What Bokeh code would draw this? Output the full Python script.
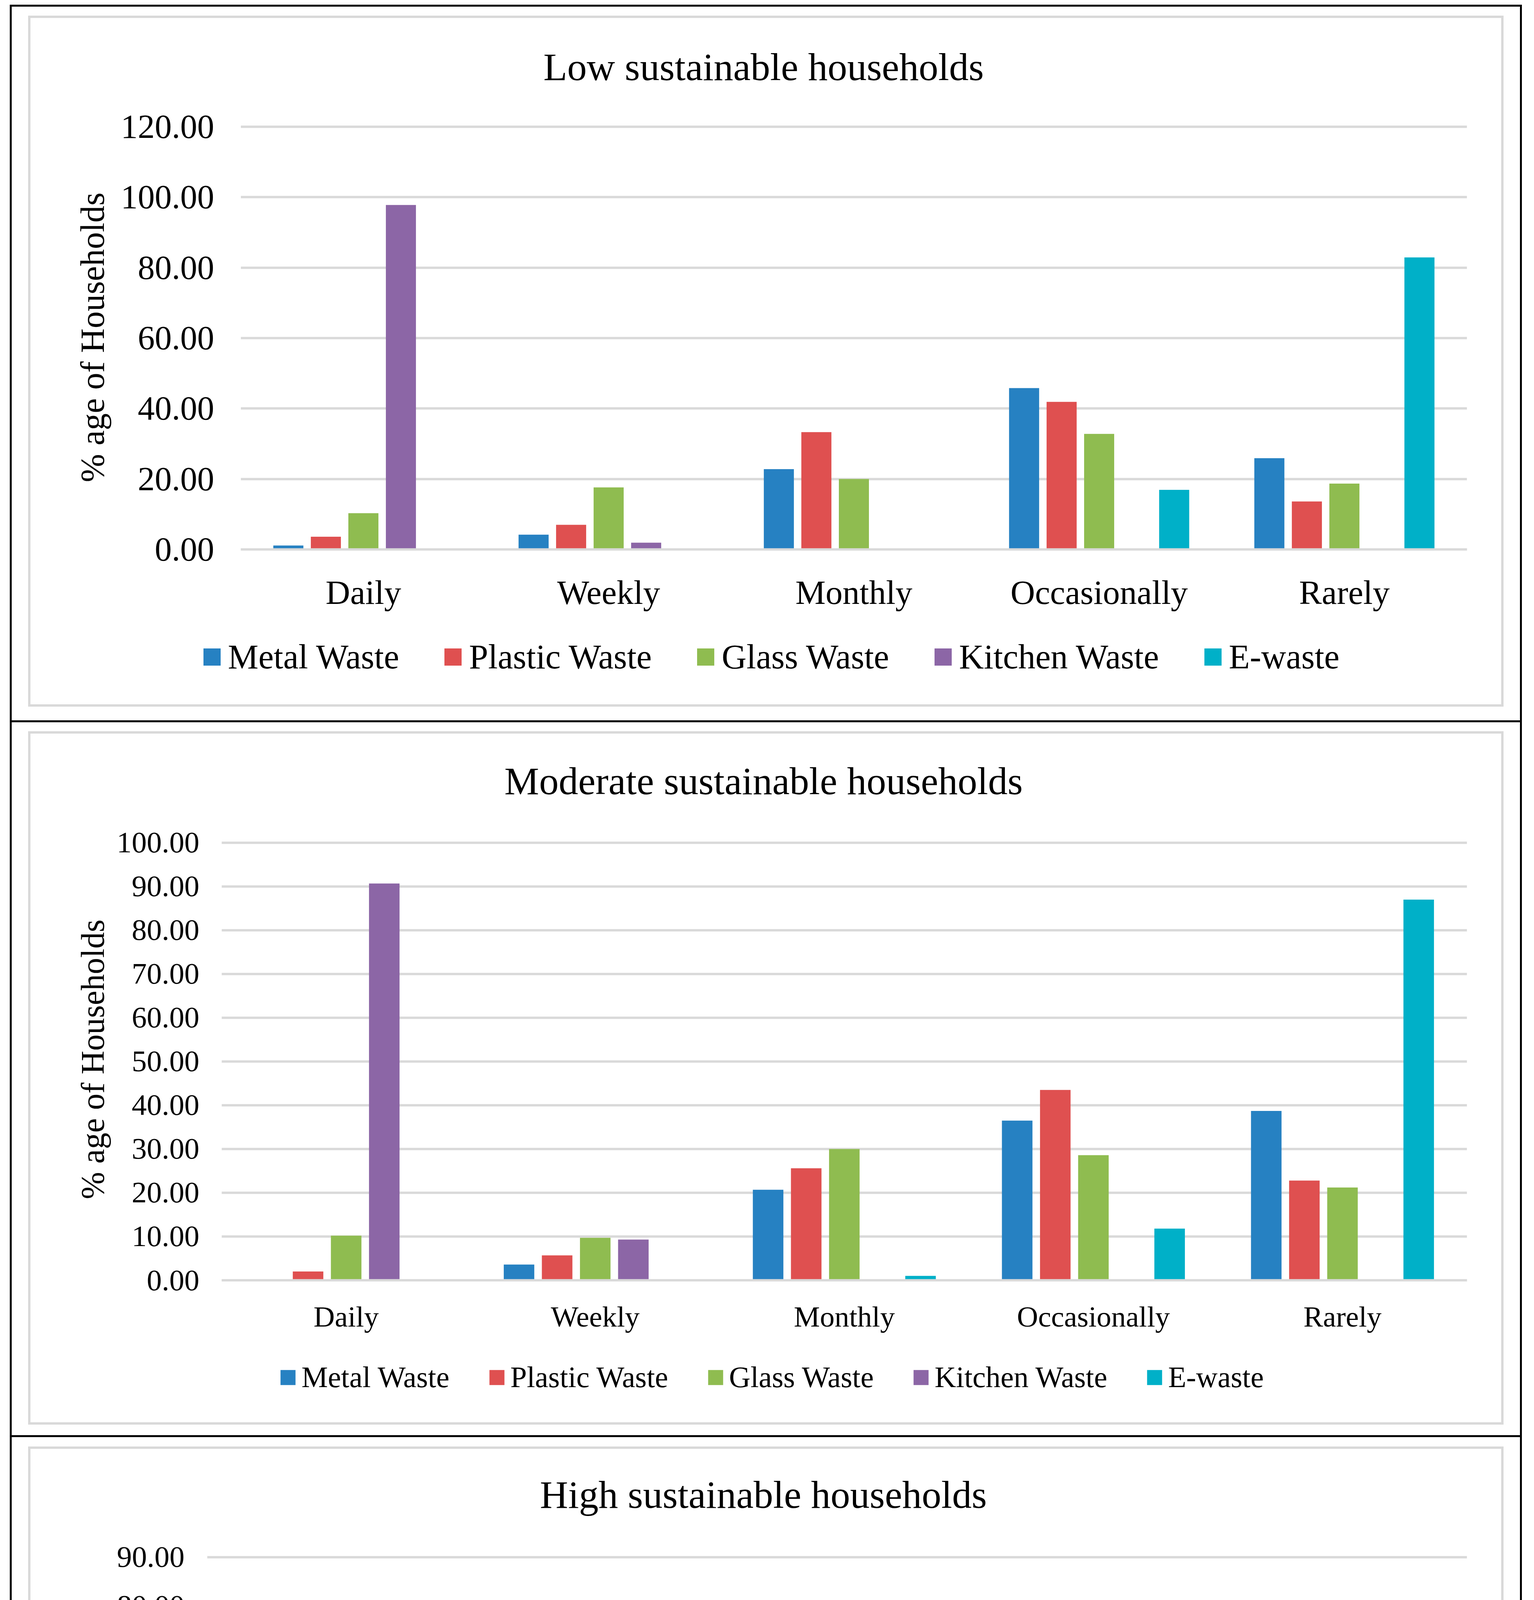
from bokeh.plotting import figure
from bokeh.models import (FactorRange, Range1d, FixedTicker, NumeralTickFormatter,
                          Legend, LegendItem, ColumnDataSource)
from bokeh.transform import dodge
from bokeh.embed import file_html
from bokeh.resources import INLINE

# ---------------- data ----------------
categories = ["Daily", "Weekly", "Monthly", "Occasionally", "Rarely"]
series_names = ["Metal Waste", "Plastic Waste", "Glass Waste", "Kitchen Waste", "E-waste"]
y_label = "% age of Households"

titles = ["Low sustainable households", "Moderate sustainable households", "High sustainable households"]

low_metal = [1.1, 4.2, 22.8, 45.8, 25.9]
low_plastic = [3.6, 7.0, 33.3, 41.9, 13.6]
low_glass = [10.3, 17.6, 20.0, 32.8, 18.7]
low_kitchen = [97.8, 1.9, 0.0, 0.0, 0.0]
low_ewaste = [0.0, 0.0, 0.0, 16.9, 82.9]

mod_metal = [0.1, 3.6, 20.7, 36.5, 38.7]
mod_plastic = [2.0, 5.7, 25.6, 43.5, 22.8]
mod_glass = [10.2, 9.7, 30.0, 28.6, 21.2]
mod_kitchen = [90.7, 9.3, 0.0, 0.0, 0.0]
mod_ewaste = [0.0, 0.0, 1.0, 11.8, 87.0]

high_metal = [0.0, 2.0, 10.7, 36.5, 50.5]
high_plastic = [1.9, 3.9, 15.8, 40.5, 37.7]
high_glass = [7.5, 9.2, 20.9, 36.0, 26.0]
high_kitchen = [74.6, 17.7, 5.8, 0.7, 1.1]
high_ewaste = [0.0, 0.0, 0.3, 23.2, 76.4]

low_ticks = [0, 20, 40, 60, 80, 100, 120]
mod_ticks = [0, 10, 20, 30, 40, 50, 60, 70, 80, 90, 100]
high_ticks = [0, 10, 20, 30, 40, 50, 60, 70, 80, 90]

# ---------------- style ----------------
colors = ["#2681C2", "#DF5050", "#8FBC50", "#8C66A6", "#00B0C8"]
FONT = "Liberation Serif"
GRID = "#D9D9D9"
W = 3912
FRAME_RIGHT = 3756
SPLIT = 1600  # chart part / legend part of every panel
keys = ["metal", "plastic", "glass", "kitchen", "ewaste"]
offsets = [-0.306, -0.153, 0.0, 0.153, 0.306]
BAR_W = 0.1226

panels = [
    dict(title=titles[0], vals=[low_metal, low_plastic, low_glass, low_kitchen, low_ewaste],
         ticks=low_ticks, height=1849, fl=616, ftop=320, gtop=324, fb=1406,
         title_off=775, title_standoff=188, fs=87, leg_fs=88, tick_fs=87, ylab_fs=87,
         tick_standoff=62, ylab_standoff=21, x_standoff=55,
         leg_x=514.5, leg_center=83, leg_h=97, leg_glyph=55, leg_standoff=14, leg_spacing=110,
         gray=(72, 40, 1809), black_top=12, black_bottom=1849),
    dict(title=titles[1], vals=[mod_metal, mod_plastic, mod_glass, mod_kitchen, mod_ewaste],
         ticks=mod_ticks, height=1830, fl=567, ftop=296, gtop=307, fb=1428,
         title_off=724, title_standoff=184, fs=75, leg_fs=76, tick_fs=77, ylab_fs=84,
         tick_standoff=51, ylab_standoff=12, x_standoff=45,
         leg_x=713, leg_center=78, leg_h=84, leg_glyph=48, leg_standoff=11, leg_spacing=97,
         gray=(72, 23, 1798), black_top=None, black_bottom=1830),
    dict(title=titles[2], vals=[high_metal, high_plastic, high_glass, high_kitchen, high_ewaste],
         ticks=high_ticks, height=1835, fl=530, ftop=290, gtop=306, fb=1429,
         title_off=852, title_standoff=178, fs=75, leg_fs=76, tick_fs=77, ylab_fs=84,
         tick_standoff=52, ylab_standoff=13, x_standoff=44,
         leg_x=713, leg_center=79, leg_h=84, leg_glyph=48, leg_standoff=11, leg_spacing=97,
         gray=(72, 24, 1795), black_top=None, black_bottom=1831),
]


def panel_rects(cfg):
    """Black outer rule and grey chart-area box of one panel, in panel pixels."""
    r = []
    top = cfg["black_top"] if cfg["black_top"] is not None else 0
    bot = cfg["black_bottom"]
    r.append((25, top, 5, bot - top, "#000000"))
    r.append((3892, top, 5, bot - top, "#000000"))
    if cfg["black_top"] is not None:
        r.append((25, top, 3872, 5, "#000000"))
    r.append((25, bot - 5, 3872, 5, "#000000"))
    gl, gt, gb = cfg["gray"]
    gr = 3850
    r.append((gl, gt, 6, gb - gt, GRID))
    r.append((gr - 6, gt, 6, gb - gt, GRID))
    r.append((gl, gt, gr - gl, 6, GRID))
    r.append((gl, gb - 6, gr - gl, 6, GRID))
    return r


def slice_css(cfg, y0, h):
    layers = []
    for (x, y, w, hh, c) in panel_rects(cfg):
        a, b = max(y, y0), min(y + hh, y0 + h)
        if b <= a:
            continue
        layers.append((f"linear-gradient({c},{c})", f"{x}px {a - y0}px", f"{w}px {b - a}px"))
    return {
        "background-color": "#ffffff",
        "background-image": ", ".join(l[0] for l in layers),
        "background-position": ", ".join(l[1] for l in layers),
        "background-size": ", ".join(l[2] for l in layers),
        "background-repeat": "no-repeat",
    }


def make_chart(cfg):
    data = {"cat": categories}
    for k, v in zip(keys, cfg["vals"]):
        data[k] = v
    src = ColumnDataSource(data)

    ymax = cfg["ticks"][-1]
    y_end = ymax * (cfg["fb"] - cfg["ftop"]) / (cfg["fb"] - cfg["gtop"])

    p = figure(width=W, height=SPLIT, x_range=FactorRange(*categories, range_padding=0),
               y_range=Range1d(0, y_end), title=cfg["title"],
               output_backend="svg", toolbar_location=None,
               min_border_left=cfg["fl"], min_border_right=W - FRAME_RIGHT,
               min_border_top=cfg["ftop"], min_border_bottom=SPLIT - cfg["fb"],
               styles=slice_css(cfg, 0, SPLIT))
    p.outline_line_color = None
    p.background_fill_color = None
    p.border_fill_color = None

    p.title.text_font = FONT
    p.title.text_font_size = "100px"
    p.title.text_font_style = "normal"
    p.title.text_color = "black"
    p.title.align = "left"
    p.title.offset = cfg["title_off"]
    p.title.standoff = cfg["title_standoff"]

    for k, c, off in zip(keys, colors, offsets):
        p.vbar(x=dodge("cat", off, range=p.x_range), top=k, width=BAR_W, bottom=0,
               source=src, fill_color=c, line_color=None)

    xa = p.xaxis[0]
    xa.axis_line_color = GRID
    xa.axis_line_width = 6
    xa.major_tick_line_color = None
    xa.minor_tick_line_color = None
    xa.major_label_text_font = FONT
    xa.major_label_text_font_size = f"{cfg['fs']}px"
    xa.major_label_text_color = "black"
    xa.major_label_standoff = cfg["x_standoff"]

    ya = p.yaxis[0]
    ya.ticker = FixedTicker(ticks=cfg["ticks"])
    ya.formatter = NumeralTickFormatter(format="0.00")
    ya.axis_line_color = None
    ya.major_tick_line_color = None
    ya.minor_tick_line_color = None
    ya.major_label_text_font = FONT
    ya.major_label_text_font_size = f"{cfg['tick_fs']}px"
    ya.major_label_text_color = "black"
    ya.major_label_standoff = cfg["tick_standoff"]
    ya.axis_label = y_label
    ya.axis_label_text_font = FONT
    ya.axis_label_text_font_size = f"{cfg['ylab_fs']}px"
    ya.axis_label_text_font_style = "normal"
    ya.axis_label_text_color = "black"
    ya.axis_label_standoff = cfg["ylab_standoff"]

    p.xgrid.grid_line_color = None
    p.ygrid.ticker = FixedTicker(ticks=cfg["ticks"])
    p.ygrid.grid_line_color = GRID
    p.ygrid.grid_line_width = 6
    return p


def make_legend(cfg):
    h = cfg["height"] - SPLIT
    q = figure(width=W, height=h, x_range=Range1d(0, 1), y_range=Range1d(0, 1),
               x_axis_type=None, y_axis_type=None, output_backend="svg",
               toolbar_location=None, min_border=0, styles=slice_css(cfg, SPLIT, h))
    q.outline_line_color = None
    q.background_fill_color = None
    q.border_fill_color = None
    q.xgrid.visible = False
    q.ygrid.visible = False
    items = []
    for name, c in zip(series_names, colors):
        # zero-size swatch carrier: only its legend glyph is visible
        r = q.vbar(x=[0.5], top=[0.0], bottom=[0.0], width=0.0, fill_color=c, line_color=None)
        items.append(LegendItem(label=name, renderers=[r]))
    vy = h - (cfg["leg_center"] + cfg["leg_h"] / 2)
    leg = Legend(items=items, orientation="horizontal", location=(cfg["leg_x"], vy),
                 glyph_width=cfg["leg_glyph"], glyph_height=cfg["leg_glyph"],
                 label_standoff=cfg["leg_standoff"], spacing=cfg["leg_spacing"],
                 padding=0, margin=0, border_line_color=None, background_fill_alpha=0,
                 label_text_font=FONT, label_text_font_size=f"{cfg['leg_fs']}px",
                 label_text_color="black", label_text_baseline="middle")
    q.add_layout(leg, "center")
    return q


roots = []
for c in panels:
    roots.append(make_chart(c))
    roots.append(make_legend(c))

open("out.html", "w").write(file_html(roots, INLINE))
